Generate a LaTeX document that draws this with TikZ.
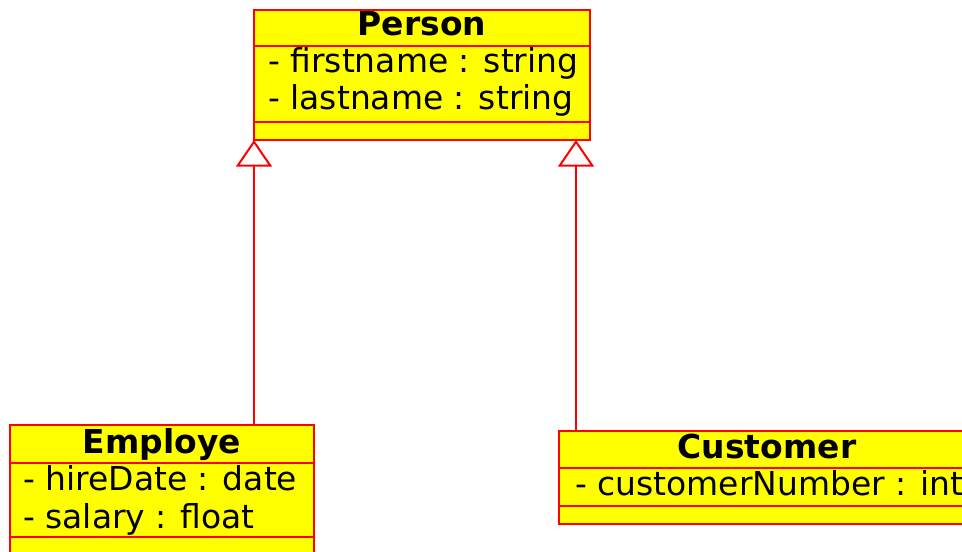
\documentclass[tikz,border=0pt]{standalone}
\usepackage{fontspec}
\setmainfont{DejaVu Sans}
\usetikzlibrary{arrows.meta,calc}
\definecolor{umlfill}{RGB}{255,255,0}
\definecolor{umlline}{RGB}{255,0,0}
\begin{document}
\begin{tikzpicture}[x=0.75pt,y=-0.75pt,
  classbox/.style={draw=umlline,fill=umlfill,line width=1.5pt,rectangle,
                   inner sep=0pt,outer sep=0pt,anchor=north west},
  divider/.style={draw=umlline,line width=1.5pt},
  title/.style={anchor=base,inner sep=0pt,font=\fontsize{24.7pt}{28pt}\selectfont\bfseries},
  attr/.style={anchor=base west,inner sep=0pt,font=\fontsize{24.7pt}{28pt}\selectfont},
  gen/.style={draw=umlline,line width=1.5pt,
              -{Triangle[open,length=20pt,width=27pt,fill=white]}}
]
\useasboundingbox (0,0) rectangle (962,552);
\clip (0,0) rectangle (962,552);

% Person class
\node[classbox,minimum width=252pt,minimum height=97.5pt] (person) at (254,10) {};
\draw[divider] (person.west |- 0,46) -- (person.east |- 0,46);
\draw[divider] (person.west |- 0,122) -- (person.east |- 0,122);
\node[title] (personname) at (422,36) {Person};
\node[attr] (pattr1) at (268,73) {- firstname : string};
\node[attr] (pattr2) at (268,110) {- lastname : string};

% Employe class
\node[classbox,minimum width=228pt,minimum height=97.5pt] (emp) at (10,425) {};
\draw[divider] (emp.west |- 0,463) -- (emp.east |- 0,463);
\draw[divider] (emp.west |- 0,537) -- (emp.east |- 0,537);
\node[title] (empname) at (162,453) {Employe};
\node[attr] (eattr1) at (23,490) {- hireDate : date};
\node[attr] (eattr2) at (23,528) {- salary : float};

% Customer class
\node[classbox,minimum width=312pt,minimum height=69.75pt] (cust) at (559,431) {};
\draw[divider] (cust.west |- 0,468) -- (cust.east |- 0,468);
\draw[divider] (cust.west |- 0,506) -- (cust.east |- 0,506);
\node[title] (custname) at (767,458) {Customer};
\node[attr] (cattr1) at (575,495) {- customerNumber : int};

% Generalisations
\coordinate (pl) at (person.south west);
\coordinate (pr) at ($(person.south east)+(-14,0)$);
\draw[gen] (emp.north -| pl) -- (pl);
\draw[gen] (cust.north -| pr) -- (pr);
\end{tikzpicture}
\end{document}
